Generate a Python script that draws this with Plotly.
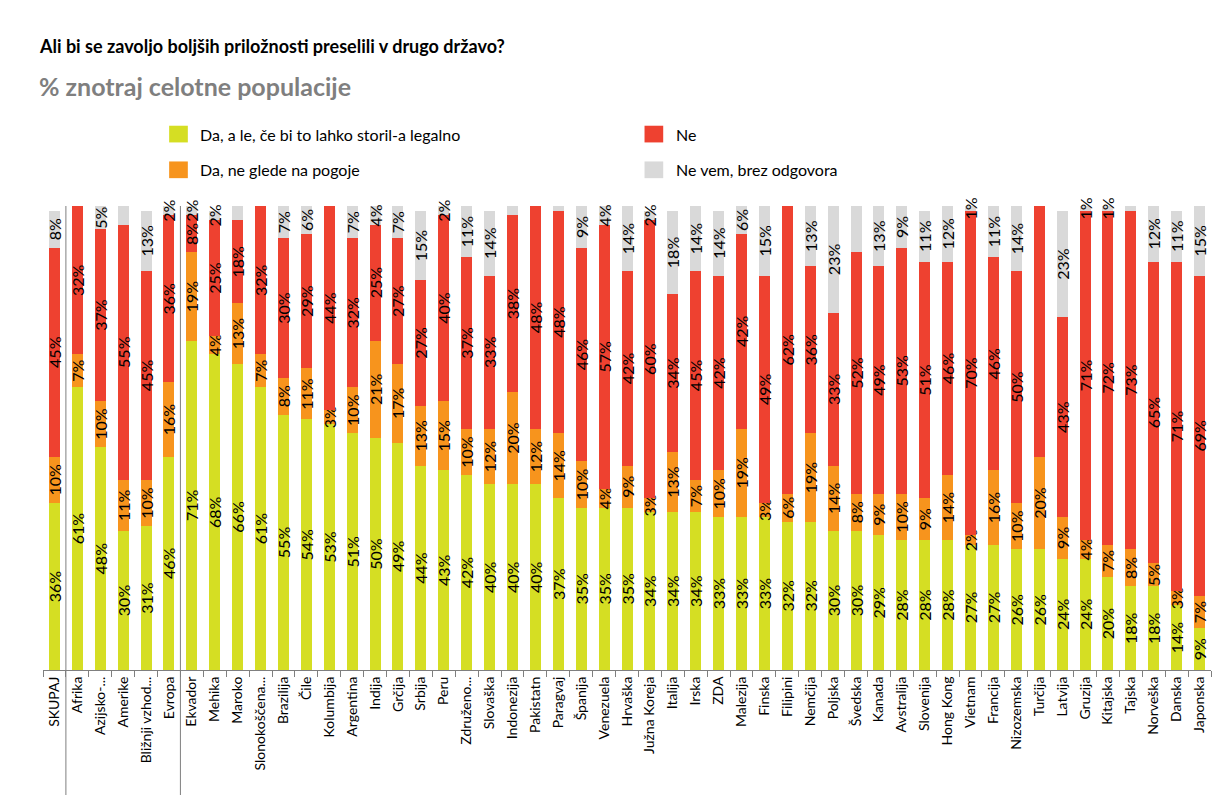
import plotly.graph_objects as go

categories = ["SKUPAJ", "Afrika", "Azijsko-...", "Amerike", "Bližnji vzhod...", "Evropa",
              "Ekvador", "Mehika", "Maroko", "Slonokoščena...", "Brazilija", "Čile", "Kolumbija",
              "Argentina", "Indija", "Grčija", "Srbija", "Peru", "Združeno...", "Slovaška",
              "Indonezija", "Pakistatn", "Paragvaj", "Španija", "Venezuela", "Hrvaška",
              "Južna Koreja", "Italija", "Irska", "ZDA", "Malezija", "Finska", "Filipini",
              "Nemčija", "Poljska", "Švedska", "Kanada", "Avstralija", "Slovenija", "Hong Kong",
              "Vietnam", "Francija", "Nizozemska", "Turčija", "Latvija", "Gruzija", "Kitajska",
              "Tajska", "Norveška", "Danska", "Japonska"]

da_legalno = [36, 61, 48, 30, 31, 46, 71, 68, 66, 61, 55, 54, 53, 51, 50, 49, 44, 43, 42, 40, 40,
              40, 37, 35, 35, 35, 34, 34, 34, 33, 33, 33, 32, 32, 30, 30, 29, 28, 28, 28, 27, 27,
              26, 26, 24, 24, 20, 18, 18, 14, 9]
da_vseeno = [10, 7, 10, 11, 10, 16, 19, 4, 13, 7, 8, 11, 3, 10, 21, 17, 13, 15, 10, 12, 20, 12,
             14, 10, 4, 9, 3, 13, 7, 10, 19, 3, 6, 19, 14, 8, 9, 10, 9, 14, 2, 16, 10, 20, 9, 4,
             7, 8, 5, 3, 7]
ne = [45, 32, 37, 55, 45, 36, 8, 25, 18, 32, 30, 29, 44, 32, 25, 27, 27, 40, 37, 33, 38, 48, 48,
      46, 57, 42, 60, 34, 45, 42, 42, 49, 62, 36, 33, 52, 49, 53, 51, 46, 70, 46, 50, 55, 43, 71,
      72, 73, 65, 71, 69]
ne_vem = [8, 0, 5, 5, 13, 2, 2, 2, 4, 0, 7, 6, 0, 7, 4, 7, 15, 2, 11, 14, 3, 0, 2, 9, 4, 14, 2,
          18, 14, 14, 6, 15, 0, 13, 23, 11, 13, 9, 11, 12, 1, 11, 14, 0, 23, 1, 1, 2, 12, 11, 15]

series = [
    ("Da, a le, če bi to lahko storil-a legalno", da_legalno, "#D5DE23"),
    ("Da, ne glede na pogoje", da_vseeno, "#F7941D"),
    ("Ne", ne, "#EE4130"),
    ("Ne vem, brez odgovora", ne_vem, "#D9D9D9"),
]

fig = go.Figure()
for name, vals, color in series:
    fig.add_trace(go.Bar(
        x=categories, y=vals, name=name, marker_color=color, marker_line_width=0,
        text=[f"{v}%" if v else "" for v in vals],
        textposition="inside", insidetextanchor="middle", textangle=-90,
        constraintext="none", cliponaxis=False,
        textfont=dict(size=16, color="black", family="Lato, sans-serif"),
    ))

# separators between total / regions / countries
for xs in (0.5, 5.5):
    fig.add_shape(type="line", xref="x", yref="paper", x0=xs, x1=xs, y0=1.0, y1=-0.275,
                  line=dict(color="#7f7f7f", width=1))

# legend drawn by hand (2 x 2 grid)
legend_pos = [(0.108, 1.155), (0.108, 1.078), (0.515, 1.155), (0.515, 1.078)]
for (name, _, color), (lx, ly) in zip(series, legend_pos):
    fig.add_shape(type="rect", xref="paper", yref="paper",
                  x0=lx, x1=lx + 0.016, y0=ly - 0.018, y1=ly + 0.018,
                  fillcolor=color, line_width=0)
    fig.add_annotation(xref="paper", yref="paper", x=lx + 0.025, y=ly, text=name,
                       showarrow=False, xanchor="left", yanchor="middle",
                       font=dict(size=16, color="black", family="Lato, sans-serif"))

fig.add_annotation(xref="paper", yref="paper", x=-0.005, y=1.345, xanchor="left", yanchor="middle",
                   text="<b>Ali bi se zavoljo boljših priložnosti preselili v drugo državo?</b>",
                   showarrow=False, font=dict(size=18, color="black", family="Lato, sans-serif"))
fig.add_annotation(xref="paper", yref="paper", x=-0.005, y=1.258, xanchor="left", yanchor="middle",
                   text="<b>% znotraj celotne populacije</b>",
                   showarrow=False, font=dict(size=25, color="#7f7f7f", family="Lato, sans-serif"))

fig.update_layout(
    barmode="stack", bargap=0.52, showlegend=False,
    uniformtext=dict(minsize=16, mode="show"),
    width=1228, height=795, plot_bgcolor="white", paper_bgcolor="white",
    margin=dict(l=35, r=25, t=198, b=133),
    font=dict(family="Lato, sans-serif", color="black"),
    xaxis=dict(tickangle=-90, tickfont=dict(size=14), showline=True, linecolor="#7f7f7f",
               ticks="outside", tickson="boundaries", ticklen=6, tickcolor="#7f7f7f"),
    yaxis=dict(range=[0, 100], visible=False),
)

fig.write_html("out.html")
